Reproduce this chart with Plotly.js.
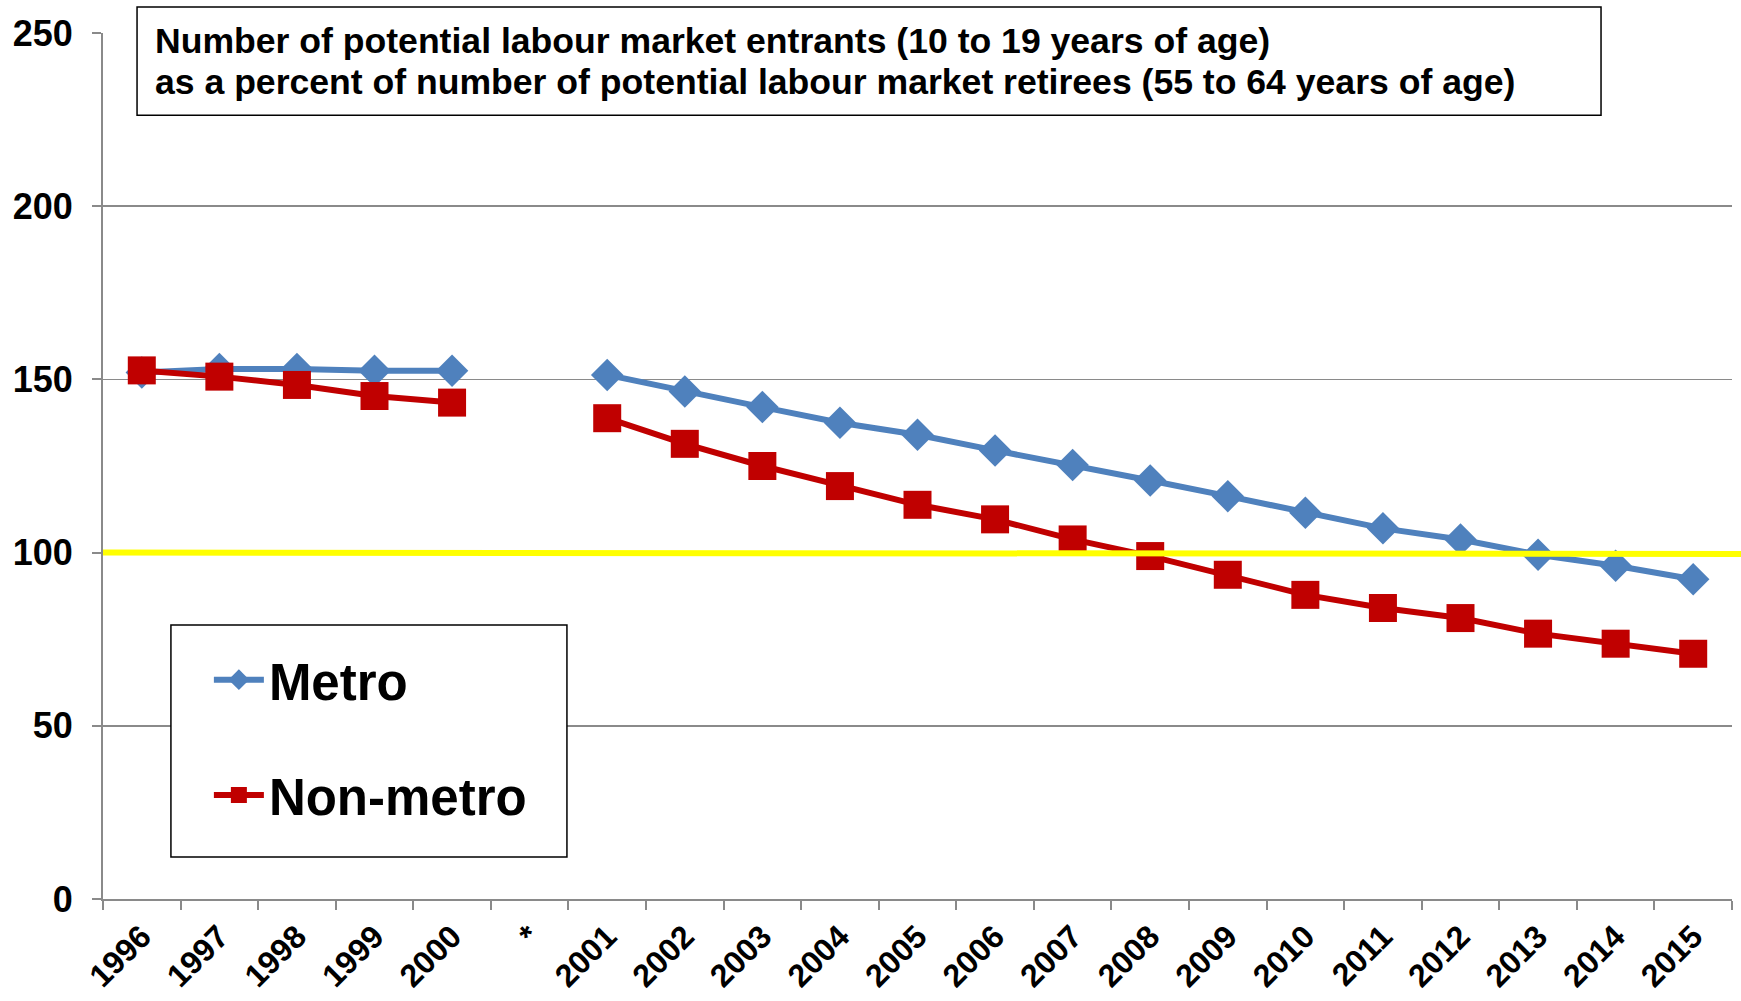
<!DOCTYPE html>
<html>
<head>
<meta charset="utf-8">
<script src="https://cdn.plot.ly/plotly-3.0.1.min.js"></script>
<style>
html,body{margin:0;padding:0;background:#fff;}
#chart{width:1741px;height:1001px;}
</style>
</head>
<body>
<div id="chart"></div>
<script>
// Categories (the "*" marks a break in the series)
const categories = ['1996','1997','1998','1999','2000','*','2001','2002','2003','2004','2005','2006','2007','2008','2009','2010','2011','2012','2013','2014','2015'];
// Metro series values
const metro = [152, 153, 153, 152.5, 152.5, null, 151.3, 146.5, 142, 137.5, 134, 129.5, 125.3, 120.8, 116.3, 111.5, 107, 103.8, 99.4, 96.2, 92.3];
// Non-metro series values
const nonMetro = [152.6, 150.8, 148.4, 145.2, 143.3, null, 138.8, 131.4, 125, 119.2, 113.8, 109.6, 103.8, 99, 93.6, 87.8, 84, 81.1, 76.6, 73.7, 70.8];
// Y tick values
const yTicks = [0, 50, 100, 150, 200, 250];
// Reference threshold line
const threshold = 100;
const seriesNames = ['Metro', 'Non-metro'];
const titleLines = ['Number of potential labour market entrants (10 to 19 years of age)',
                    'as a percent of number of potential labour market retirees (55 to 64 years of age)'];

const FONT = 'Liberation Sans, Arial, Helvetica, sans-serif';
const GRID = '#8a8a8a';

const traces = [
  {
    type: 'scatter', mode: 'lines+markers', name: seriesNames[0], legendgroup: 'a',
    x: categories, y: metro, connectgaps: false,
    line: {color: '#4F81BD', width: 6},
    marker: {symbol: 'diamond', size: 25, color: '#4F81BD'}
  },
  {
    type: 'scatter', mode: 'lines+markers', name: seriesNames[1], legendgroup: 'b',
    x: categories, y: nonMetro, connectgaps: false,
    line: {color: '#C00000', width: 6},
    marker: {symbol: 'square', size: 28, color: '#C00000'}
  }
];

const layout = {
  width: 1741, height: 1001,
  margin: {l: 103, r: 9, t: 33, b: 102},
  paper_bgcolor: '#fff', plot_bgcolor: '#fff',
  font: {family: FONT, color: '#000'},
  showlegend: true,
  legend: {
    x: 0.065, xanchor: 'left', y: 0.299, yanchor: 'top',
    bgcolor: 'rgba(0,0,0,0)', borderwidth: 0,
    traceorder: 'grouped', tracegroupgap: 46,
    itemwidth: 50,
    font: {family: FONT, size: 51, weight: 700, color: '#000'}
  },
  xaxis: {
    type: 'category', range: [-0.5, categories.length - 0.5],
    showgrid: false, zeroline: false,
    showline: true, linecolor: GRID, linewidth: 2,
    ticks: 'outside', tickson: 'boundaries', ticklen: 9, tickcolor: GRID, tickwidth: 2,
    tickangle: -45, ticklabelstandoff: 4,
    tickfont: {family: FONT, size: 32, weight: 700, color: '#000'},
    fixedrange: true
  },
  yaxis: {
    range: [0, 250], tickvals: yTicks, ticktext: yTicks.map(String),
    showgrid: true, gridcolor: GRID, gridwidth: 1.5, zeroline: false,
    showline: true, linecolor: GRID, linewidth: 2,
    ticks: 'outside', ticklen: 9, tickcolor: GRID, tickwidth: 2,
    ticklabelstandoff: 12,
    tickfont: {family: FONT, size: 36, weight: 700, color: '#000'},
    fixedrange: true
  },
  shapes: [
    {type: 'line', xref: 'paper', yref: 'y', x0: 0, x1: 1.006, y0: threshold, y1: threshold - 0.4,
     line: {color: '#FFFF00', width: 6}, layer: 'above'},
    {type: 'rect', xref: 'paper', yref: 'paper', x0: 0.0209, x1: 0.9196, y0: 0.905, y1: 1.030,
     fillcolor: '#fff', line: {color: '#000', width: 1.5}, layer: 'above'},
    {type: 'rect', xref: 'paper', yref: 'paper', x0: 0.0417, x1: 0.2848, y0: 0.0485, y1: 0.3164,
     fillcolor: '#fff', line: {color: '#000', width: 1.5}, layer: 'above'}
  ],
  annotations: [
    {xref: 'paper', yref: 'paper', x: 0.0307, y: (899 - 41) / 866, xanchor: 'left', yanchor: 'middle',
     align: 'left', showarrow: false, text: titleLines[0],
     font: {family: FONT, size: 35.6, weight: 700, color: '#000'}},
    {xref: 'paper', yref: 'paper', x: 0.0307, y: (899 - 82) / 866, xanchor: 'left', yanchor: 'middle',
     align: 'left', showarrow: false, text: titleLines[1],
     font: {family: FONT, size: 35.6, weight: 700, color: '#000'}}
  ]
};

Plotly.newPlot('chart', traces, layout, {displayModeBar: false, staticPlot: true});
</script>
</body>
</html>
